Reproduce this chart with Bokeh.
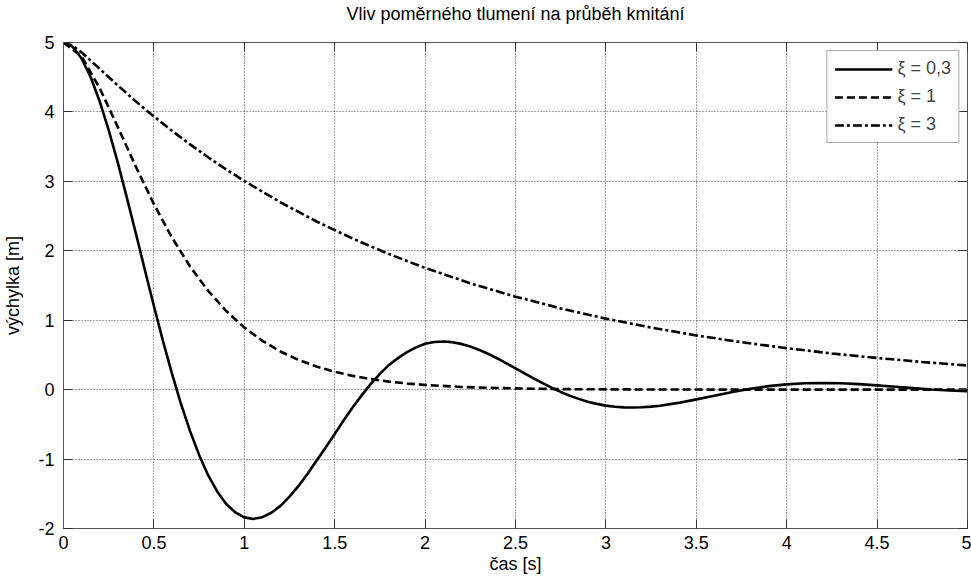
from bokeh.plotting import figure
from bokeh.models import Range1d, FixedTicker, LinearAxis, Legend, CustomLabelingPolicy
from bokeh.embed import file_html
from bokeh.resources import INLINE

# ---- data ----
title_text = "Vliv poměrného tlumení na průběh kmitání"
x_label = "čas [s]"
y_label = "výchylka [m]"

x_ticks = [0, 0.5, 1, 1.5, 2, 2.5, 3, 3.5, 4, 4.5, 5]
x_tick_labels = ["0", "0.5", "1", "1.5", "2", "2.5", "3", "3.5", "4", "4.5", "5"]
y_ticks = [-2, -1, 0, 1, 2, 3, 4, 5]
y_tick_labels = ["-2", "-1", "0", "1", "2", "3", "4", "5"]

series_names = ["ξ = 0,3", "ξ = 1", "ξ = 3"]

t_03 = [0.0, 0.05, 0.1, 0.15, 0.2, 0.25, 0.3, 0.35, 0.4, 0.45, 0.5, 0.55, 0.6, 0.65,
        0.7, 0.75, 0.8, 0.85, 0.9, 0.95, 1.0, 1.05, 1.1, 1.15, 1.2, 1.25, 1.3, 1.35,
        1.4, 1.45, 1.5, 1.55, 1.6, 1.65, 1.7, 1.75, 1.8, 1.85, 1.9, 1.95, 2.0, 2.05,
        2.1, 2.15, 2.2, 2.25, 2.3, 2.35, 2.4, 2.45, 2.5, 2.55, 2.6, 2.65, 2.7, 2.75,
        2.8, 2.85, 2.9, 2.95, 3.0, 3.05, 3.1, 3.15, 3.2, 3.25, 3.3, 3.4, 3.5, 3.6,
        3.7, 3.8, 3.9, 4.0, 4.1, 4.2, 4.3, 4.4, 4.5, 4.6, 4.7, 4.8, 4.9, 5.0]
y_03 = [5.0, 4.940, 4.770, 4.503, 4.154, 3.739, 3.273, 2.770, 2.253, 1.725, 1.205,
        0.703, 0.230, -0.207, -0.598, -0.940, -1.232, -1.466, -1.647, -1.767, -1.840,
        -1.862, -1.837, -1.773, -1.674, -1.541, -1.387, -1.211, -1.021, -0.832,
        -0.640, -0.442, -0.255, -0.079, 0.083, 0.228, 0.356, 0.454, 0.540, 0.609,
        0.661, 0.686, 0.693, 0.684, 0.659, 0.621, 0.572, 0.514, 0.449, 0.379, 0.307,
        0.234, 0.162, 0.093, 0.027, -0.033, -0.087, -0.133, -0.173, -0.205, -0.230,
        -0.246, -0.256, -0.258, -0.254, -0.245, -0.231, -0.191, -0.140, -0.087,
        -0.034, 0.013, 0.051, 0.076, 0.092, 0.096, 0.091, 0.079, 0.062, 0.042, 0.022,
        0.003, -0.013, -0.024]

t_1 = [0.0, 0.1, 0.2, 0.3, 0.4, 0.5, 0.6, 0.7, 0.8, 0.9, 1.0, 1.1, 1.2, 1.3, 1.4,
       1.5, 1.6, 1.7, 1.8, 1.9, 2.0, 2.2, 2.4, 2.6, 2.8, 3.0, 3.5, 4.0, 4.5, 5.0]
y_1 = [5.0, 4.799, 4.343, 3.785, 3.212, 2.672, 2.190, 1.774, 1.423, 1.132, 0.895,
       0.703, 0.550, 0.428, 0.332, 0.257, 0.198, 0.152, 0.116, 0.089, 0.068, 0.039,
       0.023, 0.013, 0.007, 0.004, 0.001, 0.0, 0.0, 0.0]

t_3 = [0.0, 0.05, 0.1, 0.2, 0.3, 0.4, 0.5, 0.6, 0.7, 0.8, 0.9, 1.0, 1.2, 1.4, 1.6,
       1.8, 2.0, 2.25, 2.5, 2.75, 3.0, 3.25, 3.5, 3.75, 4.0, 4.25, 4.5, 4.75, 5.0]
y_3 = [5.0, 4.954, 4.857, 4.621, 4.382, 4.152, 3.935, 3.728, 3.533, 3.347, 3.172,
       3.005, 2.698, 2.422, 2.175, 1.953, 1.753, 1.532, 1.339, 1.170, 1.023, 0.894,
       0.781, 0.683, 0.597, 0.521, 0.456, 0.398, 0.348]

FONT = "Liberation Sans"

p = figure(width=971, height=579, output_backend="svg", toolbar_location=None,
           x_range=Range1d(0, 5), y_range=Range1d(-2, 5), title=None,
           min_border_left=62, min_border_right=2, min_border_top=42,
           min_border_bottom=51, background_fill_color="white",
           border_fill_color="white")

p.outline_line_color = "#555555"
p.outline_line_width = 1

xt = FixedTicker(ticks=x_ticks)
yt = FixedTicker(ticks=y_ticks)

for ax, tk, labels in ((p.xaxis[0], xt, x_tick_labels), (p.yaxis[0], yt, y_tick_labels)):
    ax.ticker = tk
    ax.major_label_overrides = {v: s for v, s in zip(tk.ticks, labels)}
    ax.major_tick_in = 9
    ax.major_tick_out = 0
    ax.minor_tick_line_color = None
    ax.axis_line_color = "#555555"
    ax.major_tick_line_color = "#333333"
    ax.major_label_text_font = FONT
    ax.major_label_text_font_size = "18px"
    ax.major_label_text_color = "black"
    ax.axis_label_text_font = FONT
    ax.axis_label_text_font_size = "18px"
    ax.axis_label_text_font_style = "normal"
    ax.axis_label_text_color = "black"

p.xaxis.axis_label = x_label
p.yaxis.axis_label = y_label
p.xaxis.major_label_standoff = 7
p.xaxis.axis_label_standoff = 2
p.yaxis.major_label_standoff = 9
p.yaxis.axis_label_standoff = 12

# inward ticks on top and right (box style), no tick labels drawn;
# the top axis carries the chart title as its axis label
no_labels = CustomLabelingPolicy(code="return new Set()")
top_ax = LinearAxis(ticker=xt, major_tick_in=9, major_tick_out=0,
                    minor_tick_line_color=None, axis_line_color=None,
                    major_tick_line_color="#333333", major_label_policy=no_labels,
                    major_label_standoff=0, major_label_text_font_size="1px",
                    axis_label=title_text, axis_label_standoff=15,
                    axis_label_text_font=FONT, axis_label_text_font_size="18px",
                    axis_label_text_font_style="normal", axis_label_text_color="black")
right_ax = LinearAxis(ticker=yt, major_tick_in=9, major_tick_out=0,
                      minor_tick_line_color=None, axis_line_color=None,
                      major_tick_line_color="#333333", major_label_policy=no_labels,
                      major_label_standoff=0, major_label_text_font_size="1px")
p.add_layout(top_ax, "above")
p.add_layout(right_ax, "right")

for g, tk in ((p.xgrid[0], xt), (p.ygrid[0], yt)):
    g.ticker = tk
    g.grid_line_color = "#444444"
    g.grid_line_dash = "1 2"
    g.grid_line_width = 1

r1 = p.line(t_03, y_03, line_color="black", line_width=2.6)
r2 = p.line(t_1, y_1, line_color="black", line_width=2.6, line_dash="8 4")
r3 = p.line(t_3, y_3, line_color="black", line_width=2.6, line_dash="9 3 3 3")

legend = Legend(items=[(series_names[0], [r1]), (series_names[1], [r2]), (series_names[2], [r3])],
                location="top_right", margin=8, padding=7, spacing=7,
                glyph_width=58, glyph_height=20, label_height=20, label_standoff=5,
                label_text_font=FONT, label_text_font_size="18px",
                border_line_color="#555555", border_line_width=1,
                background_fill_color="white", background_fill_alpha=1)
p.add_layout(legend)

open("out.html", "w").write(file_html(p, INLINE))
